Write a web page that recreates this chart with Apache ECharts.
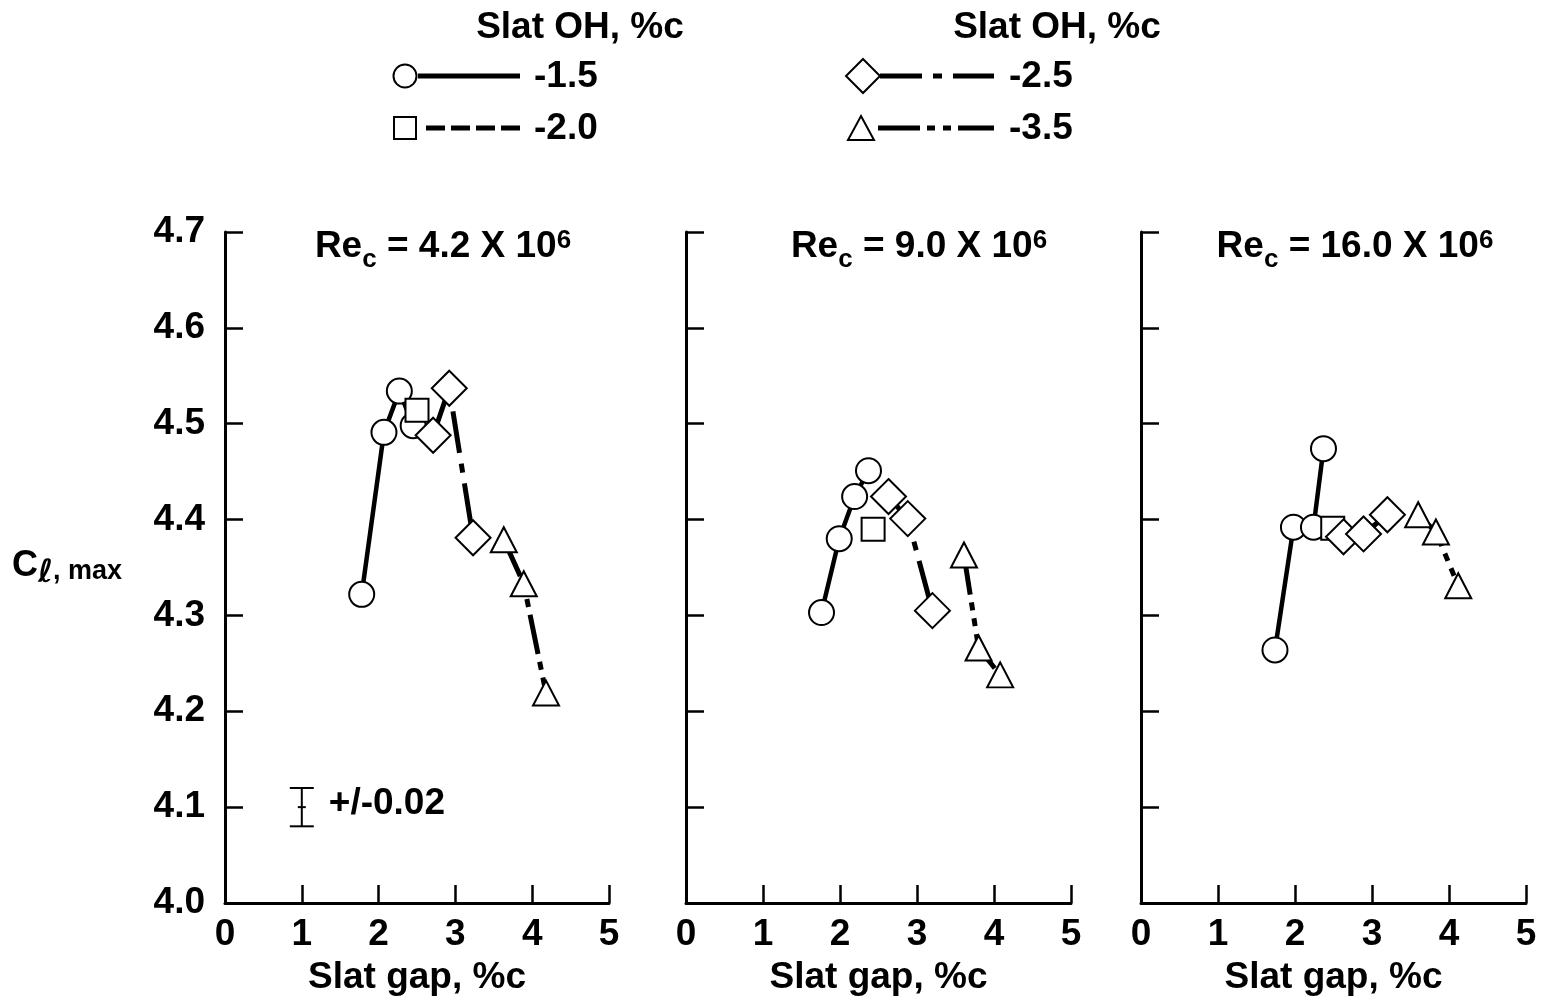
<!DOCTYPE html>
<html><head><meta charset="utf-8">
<script src="https://cdn.jsdelivr.net/npm/echarts@6/dist/echarts.min.js"></script>
<style>html,body{margin:0;padding:0;background:#fff}#chart{width:1546px;height:1005px}</style>
</head><body><div id="chart"></div>
<script>
// ---------------- data ----------------
const xTickLabels = ['0', '1', '2', '3', '4', '5'];
const yTickLabels = ['4.0', '4.1', '4.2', '4.3', '4.4', '4.5', '4.6', '4.7'];
const reynolds = ['4.2', '9.0', '16.0'];
const ohLabels = ['-1.5', '-2.0', '-2.5', '-3.5'];

// Panel 1, Re = 4.2e6
const p1_oh15_gap = [1.78, 2.07, 2.27, 2.45];
const p1_oh15_cl  = [4.322, 4.491, 4.534, 4.498];
const p1_oh20_gap = [2.50];
const p1_oh20_cl  = [4.514];
const p1_oh25_gap = [2.71, 2.92, 3.23];
const p1_oh25_cl  = [4.488, 4.537, 4.381];
const p1_oh35_gap = [3.63, 3.89, 4.18];
const p1_oh35_cl  = [4.379, 4.333, 4.219];

// Panel 2, Re = 9.0e6
const p2_oh15_gap = [1.76, 1.99, 2.19, 2.37];
const p2_oh15_cl  = [4.303, 4.380, 4.424, 4.451];
const p2_oh20_gap = [2.43];
const p2_oh20_cl  = [4.390];
const p2_oh25_gap = [2.63, 2.88, 3.20];
const p2_oh25_cl  = [4.424, 4.401, 4.305];
const p2_oh35_gap = [3.61, 3.80, 4.08];
const p2_oh35_cl  = [4.363, 4.266, 4.238];

// Panel 3, Re = 16.0e6
const p3_oh15_gap = [1.74, 1.98, 2.24, 2.37];
const p3_oh15_cl  = [4.264, 4.392, 4.392, 4.474];
const p3_oh20_gap = [2.49];
const p3_oh20_cl  = [4.391];
const p3_oh25_gap = [2.63, 2.89, 3.20];
const p3_oh25_cl  = [4.382, 4.385, 4.405];
const p3_oh35_gap = [3.60, 3.83, 4.12];
const p3_oh35_cl  = [4.405, 4.387, 4.331];

// Uncertainty bar (panel 1)
const errGap = [1.0];
const errCl = [4.1];
const errHalf = [0.02];
const errLabel = '+/-0.02';

// ---------------- build ----------------
const FONT = '"Liberation Sans", Arial, Helvetica, sans-serif';
const panelData = [
  [[p1_oh15_gap, p1_oh15_cl], [p1_oh20_gap, p1_oh20_cl], [p1_oh25_gap, p1_oh25_cl], [p1_oh35_gap, p1_oh35_cl]],
  [[p2_oh15_gap, p2_oh15_cl], [p2_oh20_gap, p2_oh20_cl], [p2_oh25_gap, p2_oh25_cl], [p2_oh35_gap, p2_oh35_cl]],
  [[p3_oh15_gap, p3_oh15_cl], [p3_oh20_gap, p3_oh20_cl], [p3_oh25_gap, p3_oh25_cl], [p3_oh35_gap, p3_oh35_cl]]
];
const groupStyle = [
  {symbol: 'circle', size: 25, dash: 'solid', width: 4.5},
  {symbol: 'rect', size: 23, dash: [19, 7], width: 5},
  {symbol: 'diamond', size: 35, dash: [42, 11, 9, 11], width: 5},
  {symbol: 'triangle', size: [26, 25], dash: [40, 8, 8, 8, 8, 8], width: 5}
];
const grids = [
  {left: 225, width: 384, top: 232, height: 671},
  {left: 686, width: 385, top: 232, height: 671},
  {left: 1141, width: 385, top: 232, height: 671}
];
const yMin = parseFloat(yTickLabels[0]), yMax = parseFloat(yTickLabels[yTickLabels.length - 1]);
const xMin = parseFloat(xTickLabels[0]), xMax = parseFloat(xTickLabels[xTickLabels.length - 1]);

const xAxes = [], yAxes = [], series = [];
grids.forEach((g, i) => {
  xAxes.push({
    type: 'value', gridIndex: i, min: xMin, max: xMax, interval: 1,
    axisLine: {show: true, onZero: false, lineStyle: {color: '#000', width: 3}},
    axisTick: {show: true, inside: true, length: 18, lineStyle: {color: '#000', width: 2.5}},
    axisLabel: {show: true, margin: 13, color: '#000', fontSize: 37, fontWeight: 'bold', fontFamily: FONT,
      formatter: v => xTickLabels[Math.round(v)]},
    splitLine: {show: false},
    name: 'Slat gap, %c', nameLocation: 'middle', nameGap: 56,
    nameTextStyle: {color: '#000', fontSize: 37, fontWeight: 'bold', fontFamily: FONT}
  });
  yAxes.push({
    type: 'value', gridIndex: i, min: yMin, max: yMax, interval: 0.1,
    axisLine: {show: true, onZero: false, lineStyle: {color: '#000', width: 3}},
    axisTick: {show: true, inside: true, length: 18, lineStyle: {color: '#000', width: 2.5}},
    axisLabel: {show: i === 0, margin: 20, color: '#000', fontSize: 37, fontWeight: 'bold', fontFamily: FONT,
      formatter: v => yTickLabels[Math.round((v - yMin) * 10)]},
    splitLine: {show: false}
  });
  panelData[i].forEach((pair, k) => {
    const st = groupStyle[k];
    series.push({
      type: 'line', name: ohLabels[k], xAxisIndex: i, yAxisIndex: i,
      data: pair[0].map((x, j) => [x, pair[1][j]]),
      symbol: st.symbol, symbolSize: st.size, showAllSymbol: true,
      itemStyle: {color: '#fff', borderColor: '#000', borderWidth: 2},
      lineStyle: {color: '#000', width: st.width, type: st.dash},
      z: 2 + k, silent: true
    });
  });
});

series.push({
  type: 'custom', xAxisIndex: 0, yAxisIndex: 0, silent: true, z: 10,
  data: errGap.map((x, j) => [x, errCl[j], errHalf[j]]),
  renderItem: (params, api) => {
    const c = api.coord([api.value(0), api.value(1)]);
    const t = api.coord([api.value(0), api.value(1) + api.value(2)]);
    const b = api.coord([api.value(0), api.value(1) - api.value(2)]);
    const ls = {stroke: '#000', lineWidth: 2};
    return {type: 'group', children: [
      {type: 'line', shape: {x1: c[0], y1: t[1], x2: c[0], y2: b[1]}, style: ls},
      {type: 'line', shape: {x1: c[0] - 12, y1: t[1], x2: c[0] + 12, y2: t[1]}, style: ls},
      {type: 'line', shape: {x1: c[0] - 12, y1: b[1], x2: c[0] + 12, y2: b[1]}, style: ls},
      {type: 'line', shape: {x1: c[0] - 4, y1: c[1], x2: c[0] + 4, y2: c[1]}, style: ls},
      {type: 'text', x: c[0] + 27, y: c[1] - 3, style: {text: errLabel, fill: '#000',
        font: 'bold 37px ' + FONT, align: 'left', verticalAlign: 'middle'}}
    ]};
  }
});

// ---- composite text helper (sub/superscripts), positioned by baseline ----
const mctx = document.createElement('canvas').getContext('2d');
function fontStr(p) { return (p.italic ? 'italic ' : '') + 'bold ' + p.fs + 'px ' + (p.family || FONT); }
function composite(parts, x, baseline, anchor) {
  const widths = parts.map(p => { mctx.font = fontStr(p); return mctx.measureText(p.t).width + (p.gap || 0); });
  const total = widths.reduce((a, b) => a + b, 0);
  let cx = anchor === 'center' ? x - total / 2 : x;
  const out = [];
  parts.forEach((p, i) => {
    out.push({type: 'text', x: cx, y: baseline + (p.dy || 0) - 0.31 * p.fs, silent: true,
      style: {text: p.t, font: fontStr(p), fill: '#000', align: 'left', verticalAlign: 'middle'}});
    cx += widths[i];
  });
  return out;
}

const graphics = [];
const titleCenters = [443, 919, 1355];
reynolds.forEach((r, i) => {
  graphics.push(...composite([
    {t: 'Re', fs: 37},
    {t: 'c', fs: 26, dy: 10},
    {t: ' = ' + r + ' X 10', fs: 37},
    {t: '6', fs: 26, dy: -9}
  ], titleCenters[i], 258, 'center'));
});
graphics.push(...composite([
  {t: 'C', fs: 36},
  {t: 'ℓ', fs: 32, dy: 7, italic: true, family: '"DejaVu Sans", ' + FONT},
  {t: ', max', fs: 27, dy: 3}
], 12, 577, 'left'));

const LF = 'bold 37px ' + FONT;
const mk = {fill: '#fff', stroke: '#000', lineWidth: 2};
graphics.push(
  {type: 'text', x: 580, y: 28, silent: true, style: {text: 'Slat OH, %c', font: LF, fill: '#000', align: 'center', verticalAlign: 'middle'}},
  {type: 'text', x: 1057, y: 28, silent: true, style: {text: 'Slat OH, %c', font: LF, fill: '#000', align: 'center', verticalAlign: 'middle'}},
  // -1.5
  {type: 'line', silent: true, shape: {x1: 418, y1: 76, x2: 520, y2: 76}, style: {stroke: '#000', lineWidth: 5}},
  {type: 'circle', silent: true, shape: {cx: 405, cy: 76, r: 11.5}, style: mk},
  {type: 'text', x: 534, y: 77, silent: true, style: {text: ohLabels[0], font: LF, fill: '#000', align: 'left', verticalAlign: 'middle'}},
  // -2.0
  {type: 'line', silent: true, shape: {x1: 426, y1: 128, x2: 520, y2: 128}, style: {stroke: '#000', lineWidth: 5, lineDash: [19, 6]}},
  {type: 'rect', silent: true, shape: {x: 394, y: 117, width: 22, height: 22}, style: mk},
  {type: 'text', x: 534, y: 129, silent: true, style: {text: ohLabels[1], font: LF, fill: '#000', align: 'left', verticalAlign: 'middle'}},
  // -2.5
  {type: 'line', silent: true, shape: {x1: 880, y1: 76, x2: 994, y2: 76}, style: {stroke: '#000', lineWidth: 5, lineDash: [42, 11, 9, 11]}},
  {type: 'polygon', silent: true, shape: {points: [[863, 59], [880, 76], [863, 93], [846, 76]]}, style: mk},
  {type: 'text', x: 1009, y: 77, silent: true, style: {text: ohLabels[2], font: LF, fill: '#000', align: 'left', verticalAlign: 'middle'}},
  // -3.5
  {type: 'line', silent: true, shape: {x1: 878, y1: 128, x2: 994, y2: 128}, style: {stroke: '#000', lineWidth: 5, lineDash: [42, 7, 8, 8, 8, 7]}},
  {type: 'polygon', silent: true, shape: {points: [[861, 116], [874, 140], [848, 140]]}, style: mk},
  {type: 'text', x: 1009, y: 129, silent: true, style: {text: ohLabels[3], font: LF, fill: '#000', align: 'left', verticalAlign: 'middle'}}
);

const chart = echarts.init(document.getElementById('chart'), null, {renderer: 'canvas'});
chart.setOption({
  animation: false,
  backgroundColor: '#fff',
  grid: grids,
  xAxis: xAxes,
  yAxis: yAxes,
  series: series,
  graphic: graphics
});
</script>
</body></html>
